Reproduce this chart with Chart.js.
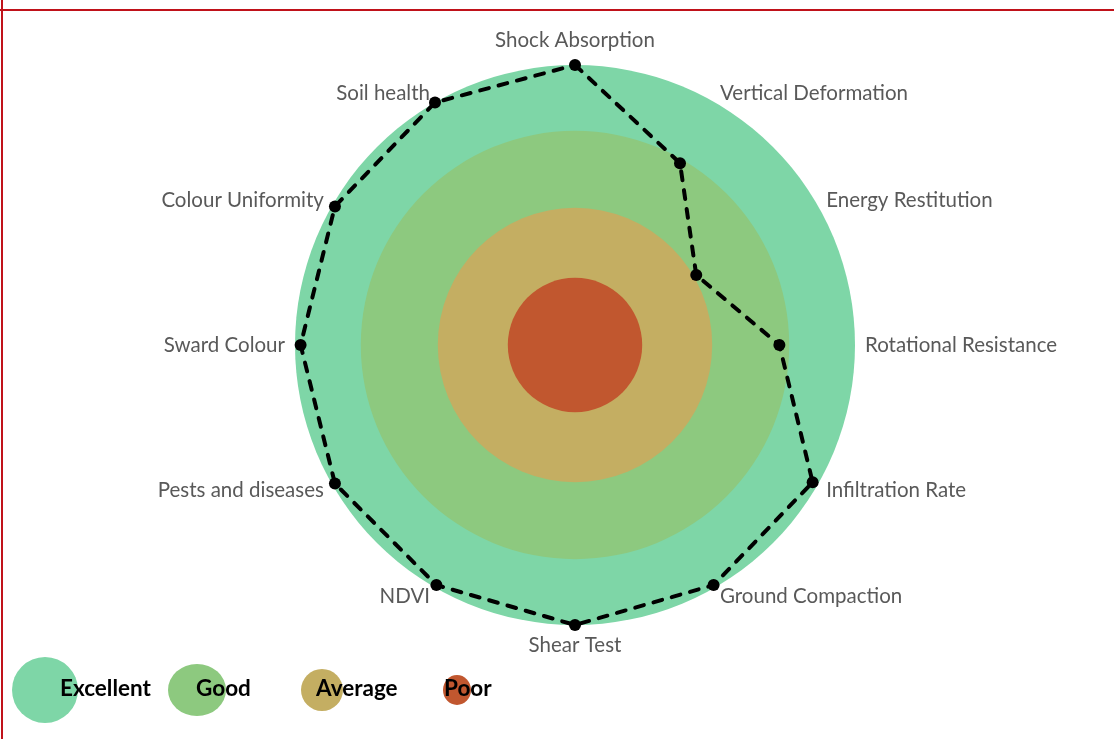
<!DOCTYPE html>
<html>
<head>
<meta charset="utf-8">
<script src="https://cdn.jsdelivr.net/npm/chart.js@4"></script>
<style>
  body { margin: 0; background: #fff; }
  #wrap { position: relative; width: 1114px; height: 739px; overflow: hidden; background: #fff; }
  #chart-host { position: absolute; left: 0; top: 0; width: 1114px; height: 739px; }
  .frame-top { position: absolute; left: 0; top: 9px; width: 1114px; height: 2px; background: #c0121a; }
  .frame-left { position: absolute; left: 1px; top: 0; width: 2px; height: 739px; background: #c0121a; }
  .lg-dot { position: absolute; border-radius: 50%; }
  .lg-text { position: absolute; font: bold 22.5px Lato, "Open Sans", sans-serif; color: #000; line-height: 26px; white-space: nowrap; }
</style>
</head>
<body>
<div id="wrap">
  <div id="chart-host"><canvas id="radar"></canvas></div>
  <div class="frame-top"></div>
  <div class="frame-left"></div>
</div>
<script>
// categories, clockwise from the top
const categories = [
  "Shock Absorption", "Vertical Deformation", "Energy Restitution",
  "Rotational Resistance", "Infiltration Rate", "Ground Compaction",
  "Shear Test", "NDVI", "Pests and diseases", "Sward Colour",
  "Colour Uniformity", "Soil health"
];
// pitch scores (0-100)
const scores = [100, 75, 50, 73, 98, 99, 100, 99, 99, 98, 99, 100];

// rating bands, drawn as discs from the outside in
const zoneNames = ["Excellent", "Good", "Average", "Poor"];
const zoneLimits = [100, 76.5, 49, 24];
const zoneColors = ["#7ed6a7", "#8dc97f", "#c4ae62", "#c1572f"];

// legend layout (circle centre, radii, text left)
const legendBoxes = [
  { cx: 45, rx: 33, ry: 33, tx: 60 },
  { cx: 197, rx: 29, ry: 26, tx: 196 },
  { cx: 322, rx: 21, ry: 21, tx: 316 },
  { cx: 457, rx: 14, ry: 15, tx: 444 },
];

// background discs behind the line
const zonesPlugin = {
  id: "zones",
  beforeDatasetsDraw(chart) {
    const sc = chart.scales.r;
    const ctx = chart.ctx;
    ctx.save();
    zoneLimits.forEach((v, i) => {
      ctx.beginPath();
      ctx.arc(sc.xCenter, sc.yCenter, sc.getDistanceFromCenterForValue(v), 0, Math.PI * 2);
      ctx.fillStyle = zoneColors[i];
      ctx.fill();
    });
    ctx.restore();
  },
};

// category labels, vertically centred on the spoke like the original
const labelPlugin = {
  id: "spokeLabels",
  afterDatasetsDraw(chart) {
    const sc = chart.scales.r;
    const ctx = chart.ctx;
    const n = categories.length;
    ctx.save();
    ctx.font = "20.5px Lato, 'Open Sans', sans-serif";
    ctx.fillStyle = "#595959";
    categories.forEach((lab, i) => {
      const deg = (i * 360) / n;
      const p = sc.getPointPosition(i, sc.drawingArea + 10);
      let align = "center";
      let base = "middle";
      let y = p.y;
      if (deg === 0) {
        base = "alphabetic";
        y -= 8;
      } else if (deg === 180) base = "top";
      else align = deg < 180 ? "left" : "right";
      ctx.textAlign = align;
      ctx.textBaseline = base;
      ctx.fillText(lab, p.x, y);
    });
    ctx.restore();
  },
};

new Chart(document.getElementById("radar"), {
  type: "radar",
  data: {
    labels: categories,
    datasets: [
      {
        label: "Score",
        data: scores,
        fill: false,
        borderColor: "#000",
        borderWidth: 4,
        borderDash: [9, 10],
        borderCapStyle: "round",
        pointRadius: 6,
        pointBackgroundColor: "#000",
        pointBorderWidth: 0,
        tension: 0,
      },
    ],
  },
  options: {
    responsive: true,
    maintainAspectRatio: false,
    animation: false,
    layout: { padding: { top: 65, bottom: 114, left: 36, right: 0 } },
    plugins: {
      legend: { display: false },
      tooltip: { enabled: false },
    },
    scales: {
      r: {
        min: 0,
        max: 100,
        ticks: { display: false },
        grid: { display: false },
        angleLines: { display: false },
        pointLabels: { display: false },
      },
    },
  },
  plugins: [zonesPlugin, labelPlugin],
});

// legend: coloured dots with the bold name laid over them
const wrap = document.getElementById("wrap");
zoneNames.forEach((name, i) => {
  const b = legendBoxes[i];
  const dot = document.createElement("div");
  dot.className = "lg-dot";
  dot.style.left = b.cx - b.rx + "px";
  dot.style.top = 690 - b.ry + "px";
  dot.style.width = b.rx * 2 + "px";
  dot.style.height = b.ry * 2 + "px";
  dot.style.background = zoneColors[i];
  wrap.appendChild(dot);
  const t = document.createElement("div");
  t.className = "lg-text";
  t.style.left = b.tx + "px";
  t.style.top = "675px";
  t.textContent = name;
  wrap.appendChild(t);
});
</script>
</body>
</html>
